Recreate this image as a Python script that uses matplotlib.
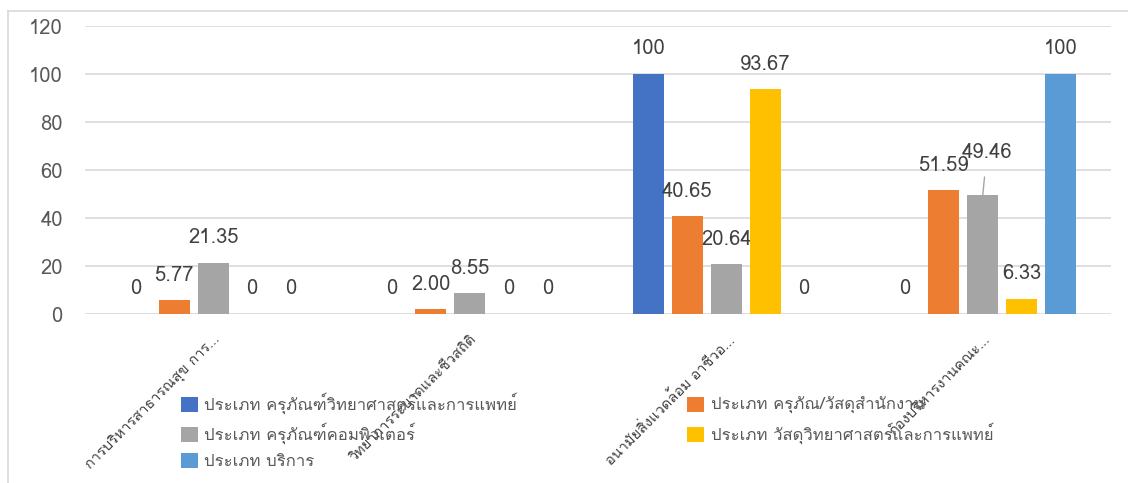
import numpy as np
import matplotlib
matplotlib.use('Agg')
import matplotlib.pyplot as plt
from matplotlib import font_manager
from matplotlib.ft2font import FT2Font
from matplotlib.lines import Line2D

# data
categories = ['การบริหารสาธารณสุข การ...', 'วิทยาการระบาดและชีวสถิติ',
              'อนามัยสิ่งแวดล้อม อาชีวอ...', 'กองบริหารงานคณะ...']
series_names = ['ประเภท ครุภัณฑ์วิทยาศาสตร์และการแพทย์',
                'ประเภท ครุภัณ/วัสดุสำนักงาน',
                'ประเภท ครุภัณฑ์คอมพิวเตอร์',
                'ประเภท วัสดุวิทยาศาสตร์และการแพทย์',
                'ประเภท บริการ']
sci_equipment = [0, 0, 100, 0]
office = [5.77, 2.00, 40.65, 51.59]
computer = [21.35, 8.55, 20.64, 49.46]
sci_supplies = [0, 0, 93.67, 6.33]
service = [0, 0, 0, 100]
colors = ['#4472C4', '#ED7D31', '#A5A5A5', '#FFC000', '#5B9BD5']

# find a font that has Thai glyphs
thai_font = None
for f in font_manager.fontManager.ttflist:
    try:
        if 0x0E01 in FT2Font(f.fname).get_charmap():
            thai_font = f.name
            break
    except Exception:
        pass
fams = ([thai_font] if thai_font else []) + ['DejaVu Sans']
plt.rcParams['font.family'] = fams

series = [sci_equipment, office, computer, sci_supplies, service]

fig = plt.figure(figsize=(11.28, 4.83), dpi=100)
ax = fig.add_axes([85/1128, 169/483, 1026/1128, 288/483])

x = np.arange(len(categories))
step = 0.152
width = 0.121
bars = []
for i, (vals, name, c) in enumerate(zip(series, series_names, colors)):
    pos = x + (i - 2) * step
    b = ax.bar(pos, vals, width, color=c, label=name, zorder=3)
    bars.append(b)
    for j, v in enumerate(vals):
        txt = str(int(v)) if v in (0, 100) else f'{v:.2f}'
        if i == 2 and j == 3:
            ax.annotate(txt, (pos[j], v), xytext=(3, 31), textcoords='offset points',
                        ha='center', va='center', fontsize=14.5, color='#404040',
                        arrowprops=dict(arrowstyle='-', color='#A6A6A6', lw=1,
                                        shrinkA=9, shrinkB=0))
        else:
            ax.annotate(txt, (pos[j], v), xytext=(0, 18), textcoords='offset points',
                        ha='center', va='center', fontsize=14.5, color='#404040')

ax.set_xlim(-0.5, 3.5)
ax.set_ylim(0, 120)
ax.set_yticks(range(0, 121, 20))
ax.grid(axis='y', color='#D9D9D9', lw=1.2, zorder=0)
for s in ax.spines.values():
    s.set_visible(False)
ax.tick_params(axis='y', length=0, pad=16, labelsize=14.5, labelcolor='#595959')
ax.set_xticks(x, categories, rotation=45, ha='right', rotation_mode='anchor')
ax.tick_params(axis='x', length=0, pad=13, labelsize=10.5, labelcolor='#404040')

order = [0, 2, 4, 1, 3]
ax.legend([bars[k] for k in order], [series_names[k] for k in order],
          ncol=2, loc='upper left', bbox_to_anchor=(166/1128, 1 - 378/483),
          bbox_transform=fig.transFigure, frameon=False, fontsize=12,
          handlelength=1.0, handleheight=1.0, handletextpad=0.4,
          labelspacing=0.5, columnspacing=10.2, labelcolor='#595959')

# chart border
fig.add_artist(Line2D([8/1128, 8/1128], [0, 1 - 11/483], color='#D9D9D9', lw=1.2))
fig.add_artist(Line2D([8/1128, 1], [1 - 11/483, 1 - 11/483], color='#D9D9D9', lw=1.2))

fig.savefig('out.png', dpi=100)
